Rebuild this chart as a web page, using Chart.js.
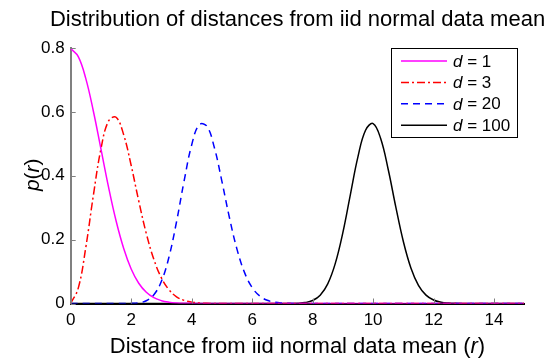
<!DOCTYPE html>
<html>
<head>
<meta charset="utf-8">
<script src="https://cdn.jsdelivr.net/npm/chart.js@4.4.1/dist/chart.umd.min.js"></script>
<style>
  html, body { margin: 0; padding: 0; background: #fff; }
</style>
</head>
<body>
<canvas id="chart" width="548" height="358"></canvas>
<script>
// distance r (x axis)
const distances = [0, 0.25, 0.5, 0.75, 1, 1.25, 1.5, 1.75, 2, 2.25, 2.5, 2.75, 3, 3.25, 3.5, 3.75,
  4, 4.25, 4.5, 4.75, 5, 5.25, 5.5, 5.75, 6, 6.25, 6.5, 6.75, 7, 7.25, 7.5, 7.75,
  8, 8.25, 8.5, 8.75, 9, 9.25, 9.5, 9.75, 10, 10.25, 10.5, 10.75, 11, 11.25, 11.5, 11.75,
  12, 12.25, 12.5, 12.75, 13, 13.25, 13.5, 13.75, 14, 14.25, 14.5, 14.75, 15];

// p(r)
const pD1 = [0.798, 0.773, 0.704, 0.602, 0.484, 0.365, 0.259, 0.173, 0.108, 0.0635, 0.0351, 0.0182, 0.0089, 0.0041, 0.0017, 0.0007,
  0.0003, 0, 0, 0, 0, 0, 0, 0, 0, 0, 0, 0, 0, 0, 0, 0,
  0, 0, 0, 0, 0, 0, 0, 0, 0, 0, 0, 0, 0, 0, 0, 0,
  0, 0, 0, 0, 0, 0, 0, 0, 0, 0, 0, 0, 0];
const pD3 = [0, 0.048, 0.176, 0.339, 0.484, 0.571, 0.583, 0.529, 0.432, 0.321, 0.219, 0.138, 0.080, 0.043, 0.021, 0.0099,
  0.0043, 0.0017, 0.0007, 0.0002, 0.0001, 0, 0, 0, 0, 0, 0, 0, 0, 0, 0, 0,
  0, 0, 0, 0, 0, 0, 0, 0, 0, 0, 0, 0, 0, 0, 0, 0,
  0, 0, 0, 0, 0, 0, 0, 0, 0, 0, 0, 0, 0];
const pD20 = [0, 0, 0, 0, 0, 0, 0, 0.00005, 0.0004, 0.0021, 0.0086, 0.0273, 0.0695, 0.1456, 0.256, 0.3836,
  0.4963, 0.5599, 0.5556, 0.4883, 0.3825, 0.2685, 0.1695, 0.0967, 0.05, 0.0235, 0.01, 0.0039, 0.0014, 0.0005, 0.0001, 0,
  0, 0, 0, 0, 0, 0, 0, 0, 0, 0, 0, 0, 0, 0, 0, 0,
  0, 0, 0, 0, 0, 0, 0, 0, 0, 0, 0, 0, 0];
const pD100 = [0, 0, 0, 0, 0, 0, 0, 0, 0, 0, 0, 0, 0, 0, 0, 0,
  0, 0, 0, 0, 0, 0, 0, 0, 0, 0, 0, 0, 0, 0.0002, 0.0008, 0.0029,
  0.0094, 0.026, 0.0615, 0.1256, 0.2221, 0.3419, 0.4598, 0.5424, 0.5633, 0.5166, 0.4195, 0.3026, 0.1943, 0.1114, 0.0571, 0.0263,
  0.0108, 0.004, 0.0014, 0.0004, 0.0001, 0, 0, 0, 0, 0, 0, 0, 0];

const xTicks = [0, 2, 4, 6, 8, 10, 12, 14];
const yTicks = [0, 0.2, 0.4, 0.6, 0.8];
const dims = [1, 3, 20, 100];

const FONT = '"Liberation Sans", Arial, sans-serif';
const colors = ['#ff00ff', '#ff0000', '#0000ff', '#000000'];
const dashes = [[], [8, 3, 2, 3], [7, 5], []];
const series = [pD1, pD3, pD20, pD100];

function points(vals) {
  return vals.map((v, i) => ({ x: distances[i], y: v }));
}

// titel, achsenbeschriftung, legende und innere ticks selbst zeichnen
const decorations = {
  id: 'decorations',
  afterDraw(chart) {
    const ctx = chart.ctx;
    const area = chart.chartArea;
    const xs = chart.scales.x, ys = chart.scales.y;
    ctx.save();

    // innere tick marks
    ctx.strokeStyle = '#808080';
    ctx.lineWidth = 1;
    xTicks.forEach(v => {
      const px = Math.round(xs.getPixelForValue(v)) + 0.5;
      ctx.beginPath(); ctx.moveTo(px, area.bottom); ctx.lineTo(px, area.bottom - 5); ctx.stroke();
    });
    yTicks.forEach(v => {
      const py = Math.round(ys.getPixelForValue(v)) + 0.5;
      ctx.beginPath(); ctx.moveTo(area.left, py); ctx.lineTo(area.left + 5, py); ctx.stroke();
    });

    const cx = (area.left + area.right) / 2;
    ctx.fillStyle = '#000';
    ctx.textBaseline = 'alphabetic';

    // titel
    ctx.font = '22px ' + FONT;
    ctx.textAlign = 'center';
    ctx.fillText('Distribution of distances from iid normal data mean', cx, 26);

    // gemischte schrift (kursiv / normal)
    function mixed(parts, x, y, size) {
      ctx.textAlign = 'left';
      let w = 0;
      parts.forEach(p => { ctx.font = (p[1] ? 'italic ' : '') + size + 'px ' + FONT; w += ctx.measureText(p[0]).width; });
      let pos = x - w / 2;
      parts.forEach(p => {
        ctx.font = (p[1] ? 'italic ' : '') + size + 'px ' + FONT;
        ctx.fillText(p[0], pos, y);
        pos += ctx.measureText(p[0]).width;
      });
    }
    mixed([['Distance from iid normal data mean (', false], ['r', true], [')', false]], cx, 353, 22);

    ctx.save();
    ctx.translate(39, (area.top + area.bottom) / 2 - 1);
    ctx.rotate(-Math.PI / 2);
    mixed([['p', true], ['(', false], ['r', true], [')', false]], 0, 0, 21);
    ctx.restore();

    // legende
    const bx = 391.5, by = 48.5, bw = 126, bh = 89;
    ctx.fillStyle = '#fff';
    ctx.fillRect(bx, by, bw, bh);
    ctx.strokeStyle = '#000';
    ctx.lineWidth = 1;
    ctx.strokeRect(bx, by, bw, bh);
    dims.forEach((d, i) => {
      const y = 61 + i * 21.4;
      ctx.strokeStyle = colors[i];
      ctx.lineWidth = 1.5;
      ctx.setLineDash(dashes[i]);
      ctx.beginPath(); ctx.moveTo(401, y); ctx.lineTo(447, y); ctx.stroke();
      ctx.setLineDash([]);
      ctx.fillStyle = '#000';
      ctx.textAlign = 'left';
      ctx.textBaseline = 'middle';
      ctx.font = 'italic 17px ' + FONT;
      ctx.fillText('d', 453, y + 1);
      const w = ctx.measureText('d').width;
      ctx.font = '17px ' + FONT;
      ctx.fillText(' = ' + d, 453 + w, y + 1);
    });
    ctx.restore();
  }
};

new Chart(document.getElementById('chart'), {
  type: 'line',
  data: {
    datasets: series.map((vals, i) => ({
      label: 'd = ' + dims[i],
      data: points(vals),
      borderColor: colors[i],
      borderDash: dashes[i],
      borderWidth: 1.5,
      pointRadius: 0,
      tension: 0.4,
      fill: false
    }))
  },
  options: {
    responsive: false,
    animation: false,
    devicePixelRatio: 1,
    layout: { padding: { top: 48, right: 23.7, left: 0, bottom: 0 } },
    plugins: { legend: { display: false }, title: { display: false }, tooltip: { enabled: false } },
    scales: {
      x: {
        type: 'linear', min: 0, max: 15,
        afterBuildTicks: s => { s.ticks = xTicks.map(v => ({ value: v })); },
        afterFit: s => { s.height = 54.5; },
        grid: { drawOnChartArea: false, drawTicks: false },
        border: { color: '#000', width: 2 },
        ticks: { color: '#000', font: { family: FONT, size: 17 }, padding: 7, maxRotation: 0 }
      },
      y: {
        type: 'linear', min: 0, max: 0.8,
        afterBuildTicks: s => { s.ticks = yTicks.map(v => ({ value: v })); },
        afterFit: s => { s.width = 70.7; },
        grid: { drawOnChartArea: false, drawTicks: false },
        border: { color: '#808080', width: 2 },
        ticks: { color: '#000', font: { family: FONT, size: 17 }, padding: 6,
          callback: v => (v === 0 ? '0' : v.toFixed(1)) }
      }
    }
  },
  plugins: [decorations]
});
</script>
</body>
</html>
